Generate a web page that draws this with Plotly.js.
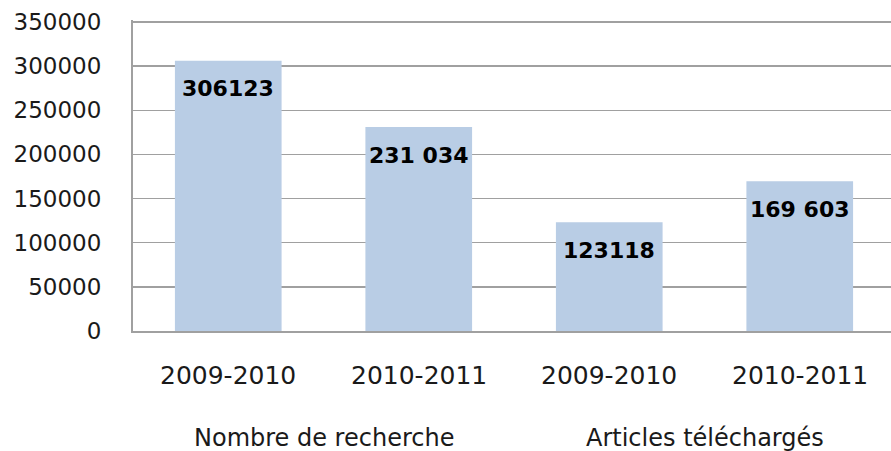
<!DOCTYPE html>
<html>
<head>
<meta charset="utf-8">
<script src="https://cdn.plot.ly/plotly-3.0.1.min.js"></script>
<style>html,body{margin:0;padding:0;background:#fff;}#chart{width:891px;height:451px;}</style>
</head>
<body>
<div id="chart"></div>
<script>
const groups = ['Nombre de recherche', 'Nombre de recherche', 'Articles téléchargés', 'Articles téléchargés'];
const years = ['2009-2010', '2010-2011', '2009-2010', '2010-2011'];
const values = [306123, 231034, 123118, 169603];
const labels = ['306123', '231 034', '123118', '169 603'];
const yTicks = [0, 50000, 100000, 150000, 200000, 250000, 300000, 350000];

const trace = {
  type: 'bar',
  x: [groups, years],
  y: values,
  marker: {color: '#B9CDE5'},
  hoverinfo: 'none'
};

// paper-y positions for label rows (plot area: y=20..331 px)
const yearRowY = -44 / 311;
const groupRowY = -107 / 311;

const annotations = [];
values.forEach((v, i) => {
  annotations.push({
    x: i, y: v, xref: 'x', yref: 'y',
    text: '<b>' + labels[i] + '</b>',
    showarrow: false, yanchor: 'middle', yshift: -28,
    font: {family: 'DejaVu Sans', size: 22, color: '#000'}
  });
  annotations.push({
    x: i, y: yearRowY, xref: 'x', yref: 'paper',
    text: years[i], showarrow: false, yanchor: 'middle',
    font: {family: 'DejaVu Sans', size: 25, color: '#1a1a1a'}
  });
});
const uniqueGroups = [...new Set(groups)];
uniqueGroups.forEach(g => {
  const idx = groups.map((gg, i) => gg === g ? i : -1).filter(i => i >= 0);
  const mid = (idx[0] + idx[idx.length - 1]) / 2;
  annotations.push({
    x: mid, y: groupRowY, xref: 'x', yref: 'paper',
    text: g, showarrow: false, yanchor: 'middle',
    font: {family: 'DejaVu Sans', size: 24, color: '#1a1a1a'}
  });
});

const layout = {
  width: 891, height: 451,
  margin: {l: 133, r: 0, t: 20, b: 120},
  paper_bgcolor: '#fff', plot_bgcolor: '#fff',
  showlegend: false,
  bargap: 0.44,
  xaxis: {
    type: 'multicategory',
    range: [-0.5, 3.479],
    showdividers: false,
    showgrid: false,
    showticklabels: false,
    showline: true, linecolor: '#a0a0a0', linewidth: 2,
    ticks: ''
  },
  yaxis: {
    range: [0, 352265],
    tickvals: yTicks,
    ticktext: yTicks.map(String),
    showgrid: true, gridcolor: '#a0a0a0', gridwidth: 1.5,
    showline: true, linecolor: '#a0a0a0', linewidth: 2,
    zeroline: false,
    ticks: '',
    ticklabelstandoff: 25,
    tickfont: {family: 'DejaVu Sans', size: 23, color: '#1a1a1a'}
  },
  annotations: annotations
};

Plotly.newPlot('chart', [trace], layout, {displayModeBar: false, staticPlot: true});
</script>
</body>
</html>
